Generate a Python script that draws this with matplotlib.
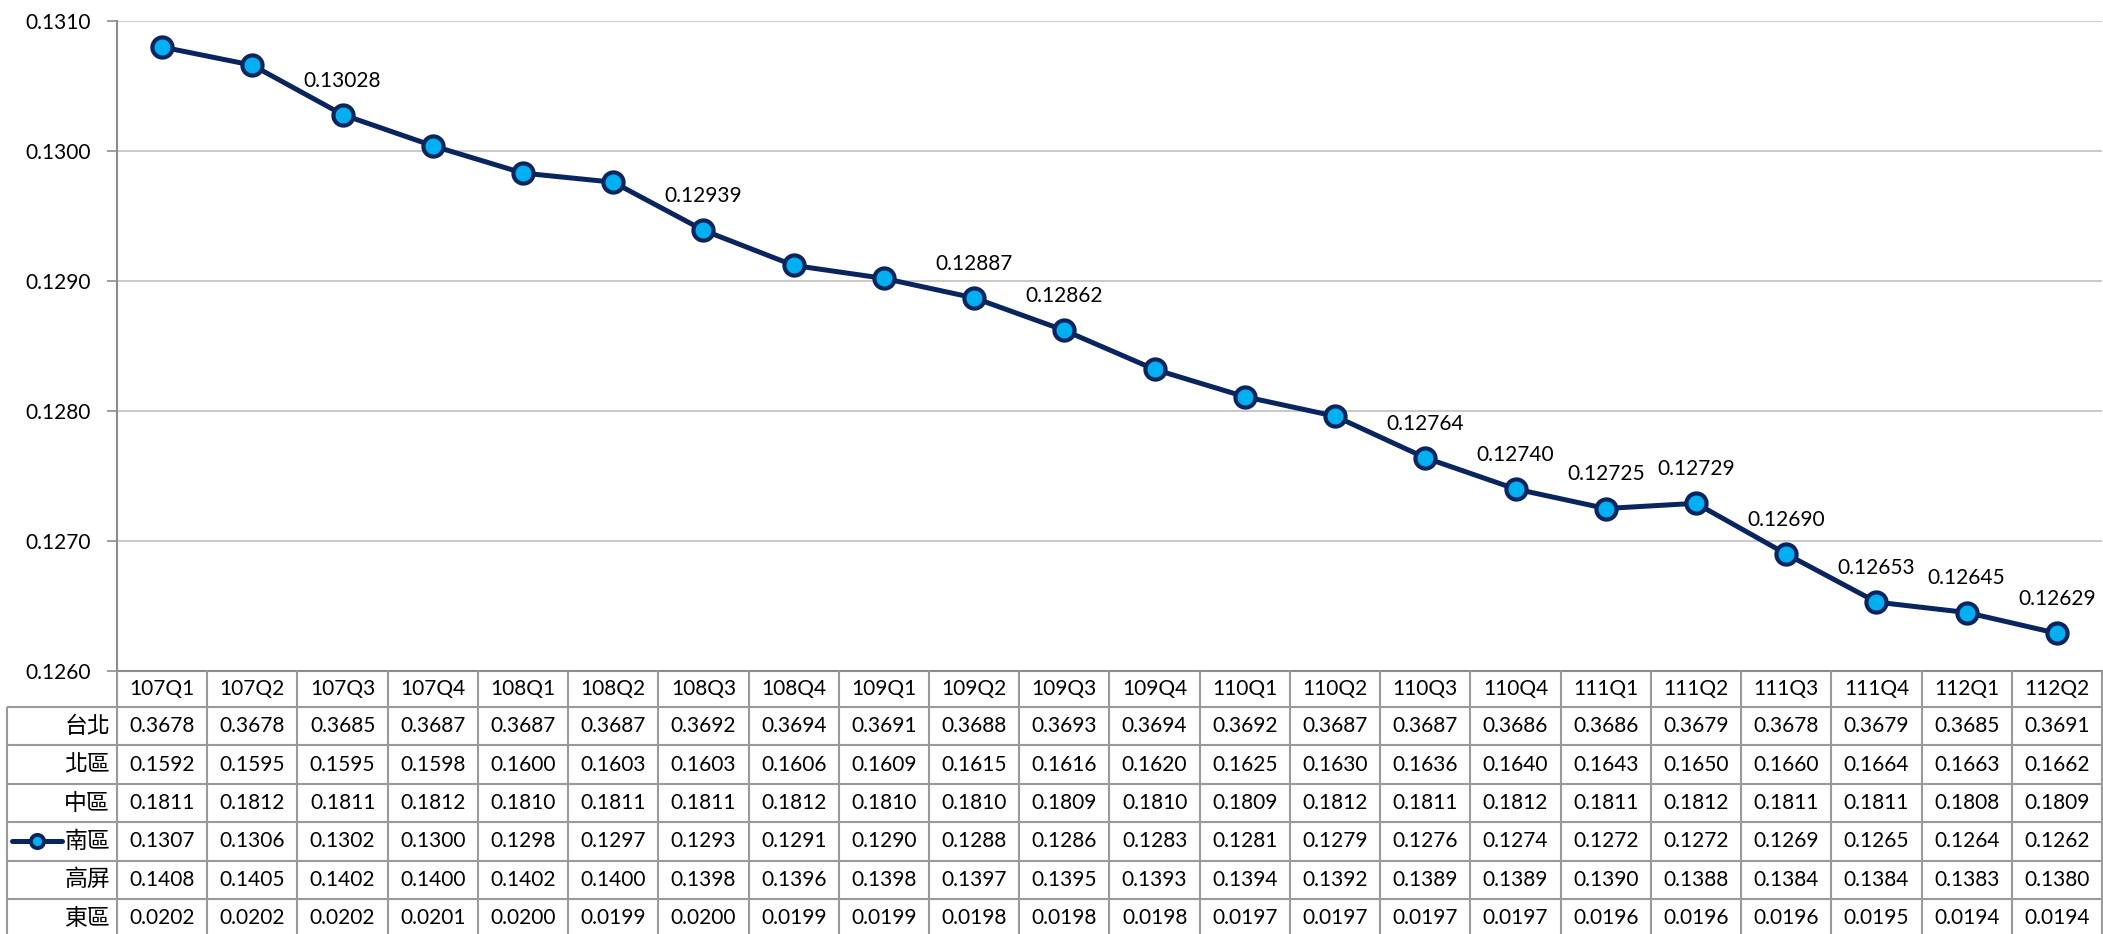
import matplotlib
matplotlib.use("Agg")
import matplotlib.pyplot as plt
from matplotlib.ticker import MultipleLocator, FormatStrFormatter

plt.rcParams['font.family'] = ['Lato', 'Noto Sans CJK TC', 'DejaVu Sans']

quarters = ["107Q1", "107Q2", "107Q3", "107Q4", "108Q1", "108Q2", "108Q3", "108Q4",
            "109Q1", "109Q2", "109Q3", "109Q4", "110Q1", "110Q2", "110Q3", "110Q4",
            "111Q1", "111Q2", "111Q3", "111Q4", "112Q1", "112Q2"]

# plotted series (南區, five decimals)
south_line = [0.13080, 0.13066, 0.13028, 0.13004, 0.12983, 0.12976, 0.12939, 0.12912,
              0.12902, 0.12887, 0.12862, 0.12832, 0.12811, 0.12796, 0.12764, 0.12740,
              0.12725, 0.12729, 0.12690, 0.12653, 0.12645, 0.12629]
# points that carry a value label
labelled = [2, 6, 9, 10, 14, 15, 16, 17, 18, 19, 20, 21]

row_names = ["台北", "北區", "中區", "南區", "高屏", "東區"]
taipei = [0.3678, 0.3678, 0.3685, 0.3687, 0.3687, 0.3687, 0.3692, 0.3694, 0.3691, 0.3688, 0.3693,
          0.3694, 0.3692, 0.3687, 0.3687, 0.3686, 0.3686, 0.3679, 0.3678, 0.3679, 0.3685, 0.3691]
north = [0.1592, 0.1595, 0.1595, 0.1598, 0.1600, 0.1603, 0.1603, 0.1606, 0.1609, 0.1615, 0.1616,
         0.1620, 0.1625, 0.1630, 0.1636, 0.1640, 0.1643, 0.1650, 0.1660, 0.1664, 0.1663, 0.1662]
central = [0.1811, 0.1812, 0.1811, 0.1812, 0.1810, 0.1811, 0.1811, 0.1812, 0.1810, 0.1810, 0.1809,
           0.1810, 0.1809, 0.1812, 0.1811, 0.1812, 0.1811, 0.1812, 0.1811, 0.1811, 0.1808, 0.1809]
south = [0.1307, 0.1306, 0.1302, 0.1300, 0.1298, 0.1297, 0.1293, 0.1291, 0.1290, 0.1288, 0.1286,
         0.1283, 0.1281, 0.1279, 0.1276, 0.1274, 0.1272, 0.1272, 0.1269, 0.1265, 0.1264, 0.1262]
kaoping = [0.1408, 0.1405, 0.1402, 0.1400, 0.1402, 0.1400, 0.1398, 0.1396, 0.1398, 0.1397, 0.1395,
           0.1393, 0.1394, 0.1392, 0.1389, 0.1389, 0.1390, 0.1388, 0.1384, 0.1384, 0.1383, 0.1380]
east = [0.0202, 0.0202, 0.0202, 0.0201, 0.0200, 0.0199, 0.0200, 0.0199, 0.0199, 0.0198, 0.0198,
        0.0198, 0.0197, 0.0197, 0.0197, 0.0197, 0.0196, 0.0196, 0.0196, 0.0195, 0.0194, 0.0194]
table_rows = [taipei, north, central, south, kaoping, east]

NAVY = "#082560"
CYAN = "#00B0F0"
GRID = "#C0C0C0"
EDGE = "#8C8C8C"
FS = 15

W, H = 2103, 934
fig = plt.figure(figsize=(W / 100, H / 100), dpi=100)

# pixel layout
left, right, top, bottom = 117, W - 1, 21, 671
tab_left = 7
colw = (right - left) / len(quarters)

ax = fig.add_axes([left / W, 1 - bottom / H, (right - left) / W, (bottom - top) / H])
x = list(range(len(quarters)))
ax.plot(x, south_line, color=NAVY, lw=3.6, marker="o", ms=14.5,
        mfc=CYAN, mec=NAVY, mew=3.0, zorder=3, clip_on=False)
for i in labelled:
    ax.annotate(f"{south_line[i]:.5f}", (i, south_line[i]), xytext=(0, 34),
                textcoords="offset pixels", ha="center", va="center", fontsize=FS)

ax.set_xlim(-0.5, len(quarters) - 0.5)
ax.set_ylim(0.1260, 0.1310)
ax.yaxis.set_major_locator(MultipleLocator(0.001))
ax.yaxis.set_major_formatter(FormatStrFormatter("%.4f"))
ax.grid(axis="y", color=GRID, lw=1.2)
ax.set_axisbelow(True)
ax.set_xticks([])
ax.tick_params(axis="y", length=7, width=1.2, color=EDGE, labelsize=FS, pad=12)
for s in ["top", "right"]:
    ax.spines[s].set_visible(False)
for s in ["left", "bottom"]:
    ax.spines[s].set_color(EDGE)
    ax.spines[s].set_linewidth(1.5)

# data table under the chart, columns aligned with the x categories
tax = fig.add_axes([tab_left / W, 0, (right - tab_left) / W, (H - bottom) / H])
tax.axis("off")
x0 = -0.5 - (left - tab_left) / colw
x1 = len(quarters) - 0.5
tax.set_xlim(x0, x1)
tax.set_ylim(H, bottom)

head_bot = 707
rowh = 38.4
lines = dict(color="#9A9A9A", lw=1.5, solid_capstyle="butt")
for k in range(len(quarters) + 1):
    tax.plot([k - 0.5, k - 0.5], [bottom, H], clip_on=False, **lines)
tax.plot([x0, x0], [head_bot, H], clip_on=False, **lines)
for r in range(len(row_names) + 1):
    y = head_bot + r * rowh
    tax.plot([x0, x1], [y, y], clip_on=False, **lines)

for i, q in enumerate(quarters):
    tax.text(i, (bottom + head_bot) / 2, q, ha="center", va="center", fontsize=FS)
for r, (name, vals) in enumerate(zip(row_names, table_rows)):
    yc = head_bot + (r + 0.5) * rowh
    tax.text(-0.5 - 7 / colw, yc, name, ha="right", va="center", fontsize=16.5,
             family=["Noto Sans CJK TC", "DejaVu Sans"])
    for i, v in enumerate(vals):
        tax.text(i, yc, f"{v:.4f}", ha="center", va="center", fontsize=FS)

# legend key for the plotted row
yk = head_bot + 3.5 * rowh
kx = [x0 + (12 - tab_left) / colw, x0 + (62 - tab_left) / colw]
tax.plot(kx, [yk, yk], color=NAVY, lw=3.6, solid_capstyle="round", clip_on=False)
tax.plot([sum(kx) / 2], [yk], marker="o", ms=9.5, mfc=CYAN, mec=NAVY, mew=2.8, clip_on=False)

fig.savefig("out.png", dpi=100)
